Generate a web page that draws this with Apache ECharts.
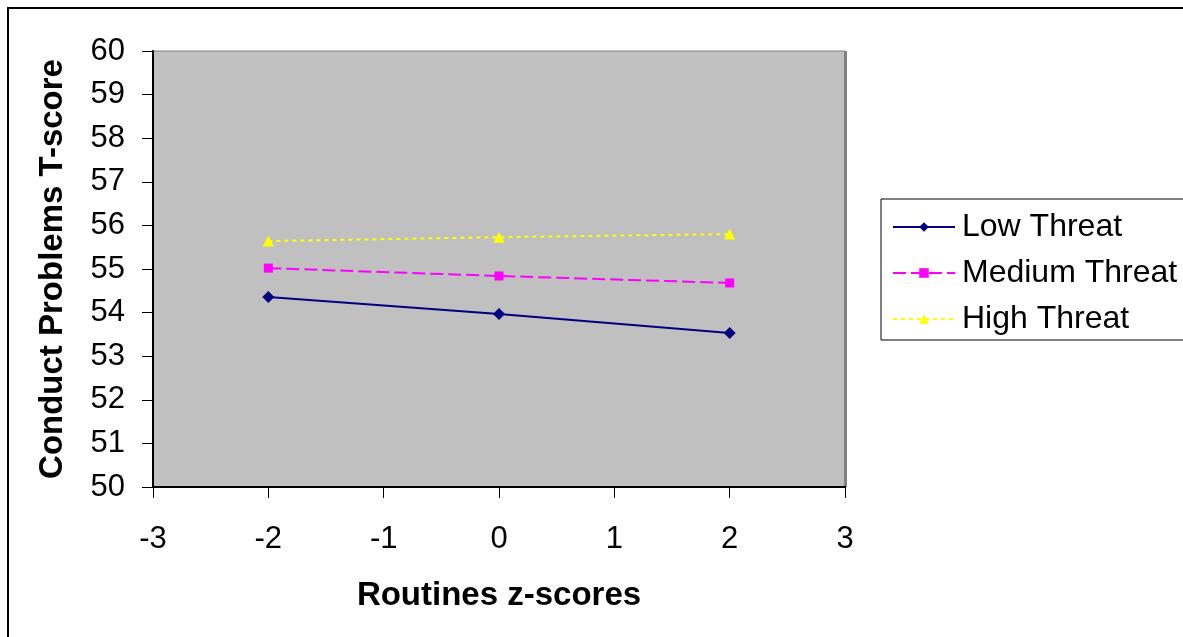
<!DOCTYPE html>
<html>
<head>
<meta charset="utf-8">
<script src="https://cdn.jsdelivr.net/npm/echarts@6/dist/echarts.min.js"></script>
<style>
html,body{margin:0;padding:0;background:#fff;}
#chart{width:1183px;height:637px;}
</style>
</head>
<body>
<div id="chart"></div>
<script>
const xValues = [-2, 0, 2];
const lowThreat = [54.36, 53.97, 53.53];
const mediumThreat = [55.02, 54.84, 54.68];
const highThreat = [55.64, 55.73, 55.80];
const seriesNames = ['Low Threat', 'Medium Threat', 'High Threat'];
const xTitle = 'Routines z-scores';
const yTitle = 'Conduct Problems T-score';

const FONT = '"Liberation Sans", Arial, sans-serif';
const pairs = arr => xValues.map((x, i) => [x, arr[i]]);

const chart = echarts.init(document.getElementById('chart'), null, {renderer: 'canvas'});
chart.setOption({
  animation: false,
  backgroundColor: '#ffffff',
  textStyle: {fontFamily: FONT},
  graphic: [{
    type: 'rect',
    shape: {x: 8, y: 8, width: 1200, height: 700},
    style: {fill: 'none', stroke: '#000', lineWidth: 2},
    z: 100
  }],
  grid: {
    left: 153, top: 51, right: 338, bottom: 150,
    show: true, backgroundColor: '#c0c0c0', borderColor: '#808080', borderWidth: 1
  },
  legend: {
    orient: 'vertical',
    left: 881, top: 199,
    padding: [12, 30, 5, 11],
    itemWidth: 62, itemHeight: 12, itemGap: 14,
    borderColor: '#000', borderWidth: 1,
    backgroundColor: '#fff',
    textStyle: {fontSize: 32, color: '#000', fontFamily: FONT, padding: [0, 0, 0, 2]},
    data: seriesNames
  },
  xAxis: {
    type: 'value', min: -3, max: 3, interval: 1,
    name: xTitle, nameLocation: 'middle', nameGap: 92,
    nameTextStyle: {fontSize: 33, fontWeight: 'bold', color: '#000', fontFamily: FONT},
    axisLine: {show: true, onZero: false, lineStyle: {color: '#000', width: 2}},
    axisTick: {show: true, inside: false, length: 11, lineStyle: {color: '#000', width: 1}},
    axisLabel: {fontSize: 31, color: '#000', margin: 37, fontFamily: FONT},
    splitLine: {show: false}
  },
  yAxis: [{
    type: 'value', min: 50, max: 60, interval: 1,
    name: yTitle, nameLocation: 'middle', nameGap: 84, nameRotate: 90,
    nameTextStyle: {fontSize: 33, fontWeight: 'bold', color: '#000', fontFamily: FONT},
    axisLine: {show: true, onZero: false, lineStyle: {color: '#000', width: 2}},
    axisTick: {show: true, inside: false, length: 11, lineStyle: {color: '#000', width: 1}},
    axisLabel: {fontSize: 31, color: '#000', margin: 28, fontFamily: FONT},
    splitLine: {show: false}
  }, {
    type: 'value', min: 50, max: 60, interval: 1, position: 'right',
    axisLine: {show: true, onZero: false, lineStyle: {color: '#808080', width: 3, cap: 'butt'}},
    axisTick: {show: false}, axisLabel: {show: false}, splitLine: {show: false}
  }],
  series: [{
    name: seriesNames[0], type: 'line', data: pairs(lowThreat),
    symbol: 'diamond', symbolSize: 12,
    lineStyle: {color: '#000080', width: 2, type: 'solid'},
    itemStyle: {color: '#000080'}
  }, {
    name: seriesNames[1], type: 'line', data: pairs(mediumThreat),
    symbol: 'rect', symbolSize: 9,
    lineStyle: {color: '#ff00ff', width: 2, type: [13, 5]},
    itemStyle: {color: '#ff00ff'}
  }, {
    name: seriesNames[2], type: 'line', data: pairs(highThreat),
    symbol: 'triangle', symbolSize: 11,
    lineStyle: {color: '#ffff00', width: 2, type: [4, 4]},
    itemStyle: {color: '#ffff00'}
  }]
});
</script>
</body>
</html>
